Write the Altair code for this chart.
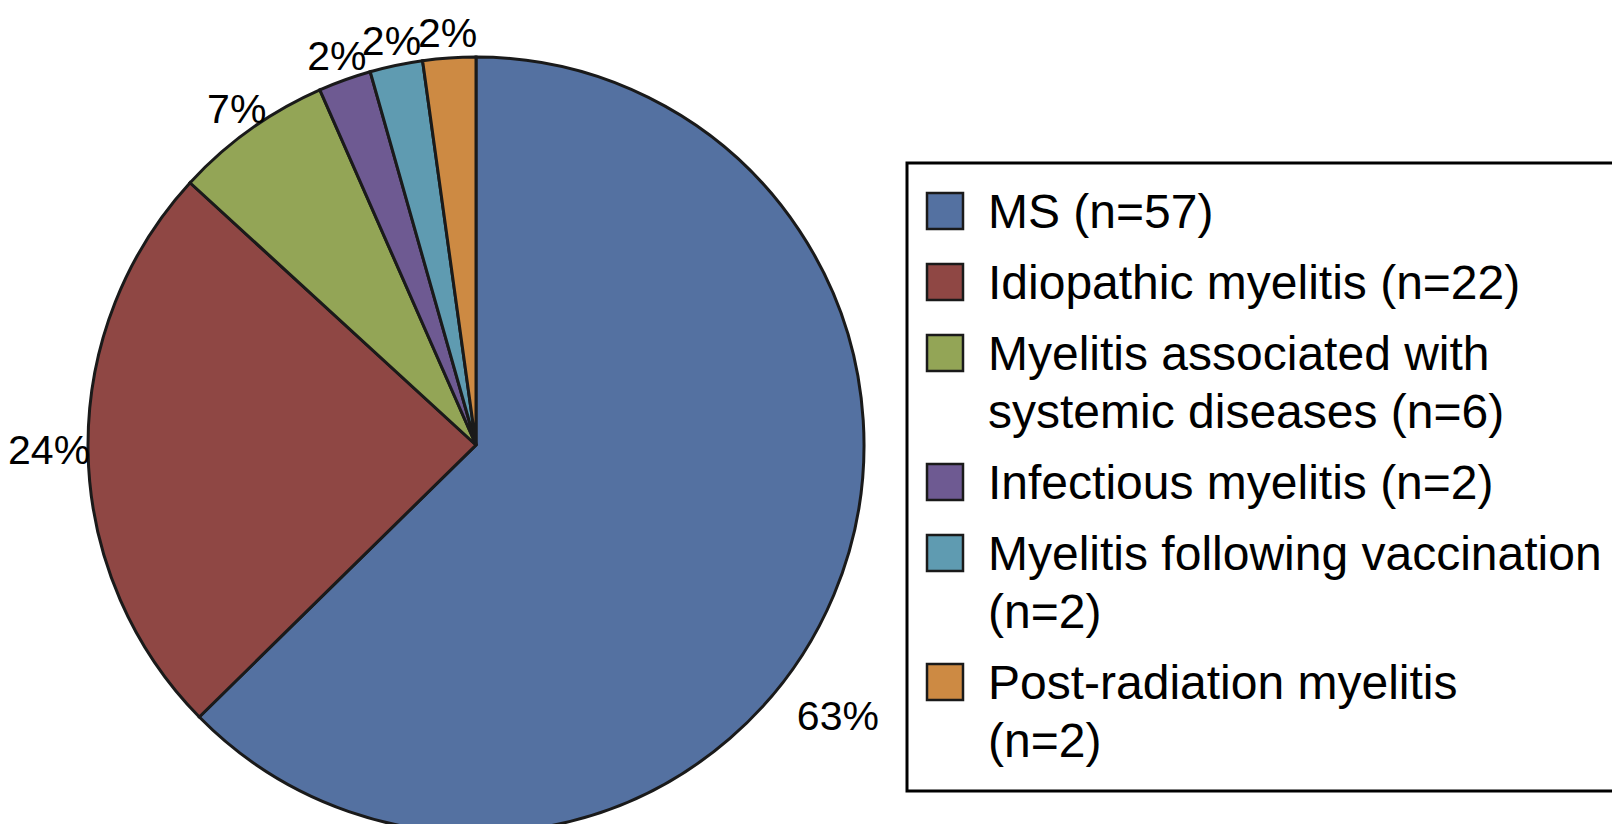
import altair as alt
import pandas as pd

# ---- data ----
categories = [
    "MS (n=57)",
    "Idiopathic myelitis (n=22)",
    "Myelitis associated with|systemic diseases (n=6)",
    "Infectious myelitis (n=2)",
    "Myelitis following vaccination|(n=2)",
    "Post-radiation myelitis|(n=2)",
]
counts = [57, 22, 6, 2, 2, 2]
pct_labels = ["63%", "24%", "7%", "2%", "2%", "2%"]
colors = ["#5471A1", "#8F4744", "#93A556", "#6E5A92", "#5F9BB1", "#CD8A43"]

df = pd.DataFrame({
    "category": categories,
    "count": counts,
    "order": list(range(len(categories))),
    "lab_big": [(t if i == 0 else "") for i, t in enumerate(pct_labels)],
    "lab_side": [(t if i == 1 else "") for i, t in enumerate(pct_labels)],
    "lab_top": [(t if i >= 2 else "") for i, t in enumerate(pct_labels)],
})

base = alt.Chart(df).encode(
    theta=alt.Theta("count:Q", stack=True),
    order=alt.Order("order:Q"),
    x=alt.value(468),
    y=alt.value(437),
)

pie = base.mark_arc(radius=388, stroke="#1a1a1a", strokeWidth=3).encode(
    color=alt.Color(
        "category:N",
        scale=alt.Scale(domain=categories, range=colors),
        sort=categories,
        legend=alt.Legend(
            title=None,
            orient="none",
            legendX=899,
            legendY=155,
            symbolType="square",
            symbolSize=1296,
            symbolStrokeColor="#1a1a1a",
            symbolStrokeWidth=2.5,
            symbolOpacity=1,
            symbolOffset=-10,
            labelFont="Liberation Sans",
            labelFontSize=48,
            labelColor="black",
            labelLimit=3000,
            labelOffset=19,
            labelBaseline="top",
            labelExpr="split(datum.label, '|')",
            strokeColor="black",
            padding=24,
            rowPadding=20,
        ),
    )
)

txt = dict(font="Liberation Sans", fontSize=41, color="black")
lab_top = base.mark_text(radius=411, **txt).encode(text="lab_top:N")
lab_side = base.mark_text(radius=427, **txt).encode(text="lab_side:N")
lab_big = base.mark_text(radius=400, dx=-7, dy=118, **txt).encode(text="lab_big:N")

chart = alt.layer(pie, lab_top, lab_side, lab_big).properties(
    width=1604,
    height=816,
    padding=0,
    autosize=alt.AutoSizeParams(type="none"),
).configure(
    style={"guide-label": {"lineHeight": 58, "dy": -21}}
).configure_view(stroke=None).configure_legend(
    strokeWidth=3
)

chart.save("out.html", embed_options={"renderer": "svg", "actions": False})
